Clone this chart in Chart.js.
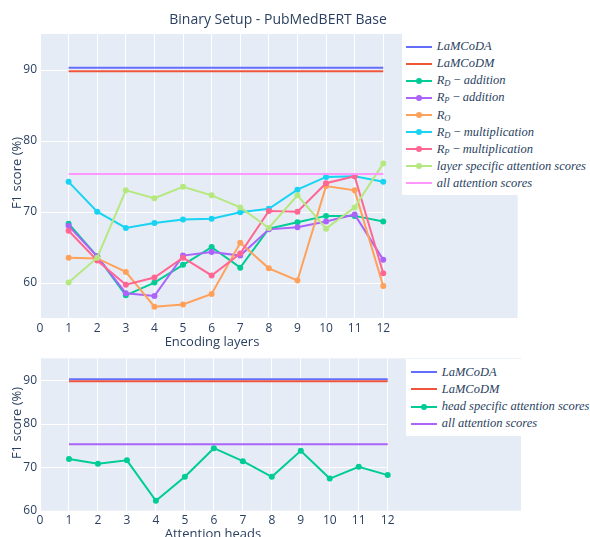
<!DOCTYPE html>
<html>
<head>
<meta charset="utf-8">
<script src="https://cdn.jsdelivr.net/npm/chart.js@4.4.1/dist/chart.umd.min.js"></script>
<style>
  body { margin: 0; background: #fff; width: 590px; height: 537px; overflow: hidden; position: relative;
         font-family: "Open Sans", sans-serif; color: #2a3f5f; }
  canvas { position: absolute; left: 0; }
  #topCanvas { top: 0; }
  #bottomCanvas { top: 340px; }
  .txt { position: absolute; white-space: nowrap; font-size: 13px; transform: translate(-50%, -50%); }
  .ytitle { transform: translate(-50%, -50%) rotate(-90deg); }
  .legend { position: absolute; right: 0; background: #fff; font-family: "Liberation Serif", serif;
            font-style: italic; font-size: 12.5px; color: #2a3f5f; }
  .legend .item { position: absolute; left: 0; height: 17px; line-height: 17px; white-space: nowrap; }
  .legend .line { position: absolute; height: 2px; top: 7.5px; }
  .legend .dot { position: absolute; width: 6px; height: 6px; border-radius: 3px; top: -2px; left: 10px; }
  .legend .lbl { position: absolute; top: 0; }
  .legend sub { font-size: 8.5px; vertical-align: -2px; line-height: 0; }
  .legend .op { font-style: normal; }
</style>
</head>
<body>
<canvas id="topCanvas" width="590" height="350"></canvas>
<canvas id="bottomCanvas" width="590" height="197"></canvas>

<div class="txt" style="left:278px; top:18px; font-size:14px;">Binary Setup - PubMedBERT Base</div>
<div class="txt ytitle" style="left:16px; top:173px;">F1 score (%)</div>
<div class="txt" style="left:212px; top:341px;">Encoding layers</div>
<div class="txt ytitle" style="left:16px; top:423px;">F1 score (%)</div>
<div class="txt" style="left:213px; top:533px;">Attention heads</div>

<div class="legend" id="topLegend" style="left:402px; top:34px; height:161px;"></div>
<div class="legend" id="bottomLegend" style="left:406px; top:359px; height:77px;"></div>

<script>
// x axis (encoding layers / attention heads) and tick labels
const layers = [1, 2, 3, 4, 5, 6, 7, 8, 9, 10, 11, 12];
const heads = [1, 2, 3, 4, 5, 6, 7, 8, 9, 10, 11, 12];
const xTicks = [0, 1, 2, 3, 4, 5, 6, 7, 8, 9, 10, 11, 12];
const yTicksTop = [60, 70, 80, 90];
const yTicksBottom = [60, 70, 80, 90];

// baselines (constant over the x axis)
const lamcoda = 90.3;
const lamcodm = 89.8;
const allAttention = 75.3;

// top plot - encoding layers
const rdAddition = [68.3, 63.7, 58.2, 60.0, 62.5, 65.0, 62.1, 67.6, 68.5, 69.4, 69.4, 68.6];
const rpAddition = [68.0, 63.7, 58.5, 58.1, 63.8, 64.3, 63.8, 67.5, 67.8, 68.6, 69.6, 63.2];
const rO = [63.5, 63.4, 61.5, 56.6, 56.9, 58.4, 65.6, 62.0, 60.3, 73.6, 73.0, 59.5];
const rdMultiplication = [74.2, 70.0, 67.7, 68.4, 68.9, 69.0, 69.9, 70.4, 73.1, 74.9, 75.0, 74.2];
const rpMultiplication = [67.3, 63.1, 59.7, 60.7, 63.5, 61.0, 64.1, 70.1, 70.0, 74.0, 75.0, 61.3];
const layerSpecific = [60.0, 63.5, 73.0, 71.9, 73.5, 72.3, 70.6, 67.7, 72.3, 67.6, 70.6, 76.8];

// bottom plot - attention heads
const headSpecific = [71.9, 70.8, 71.6, 62.3, 67.8, 74.4, 71.4, 67.8, 73.8, 67.4, 70.1, 68.2];

const pts = (xs, ys) => xs.map((x, i) => ({ x: x, y: ys[i] }));
const flat = (xs, v) => xs.map(x => ({ x: x, y: v }));

function series(label, data, color, markers) {
    return {
        label: label,
        data: data,
        borderColor: color,
        backgroundColor: color,
        borderWidth: 2,
        pointRadius: markers ? 3 : 0,
        pointHoverRadius: markers ? 3 : 0,
        pointBorderWidth: 0,
        tension: 0,
        markers: markers
    };
}

// plot background + horizontal grid that stops at x = 12 (like the original)
const plotBg = {
    id: 'plotBg',
    beforeDraw(chart) {
        const { ctx, chartArea: a } = chart;
        ctx.save();
        ctx.fillStyle = '#E5ECF6';
        ctx.fillRect(a.left, a.top, a.right - a.left, a.bottom - a.top);
        ctx.restore();
    },
    beforeDatasetsDraw(chart) {
        const { ctx, scales } = chart;
        const x0 = scales.x.getPixelForValue(0);
        const x1 = scales.x.getPixelForValue(12);
        ctx.save();
        ctx.strokeStyle = '#ffffff';
        ctx.lineWidth = 1;
        scales.y.ticks.forEach(t => {
            const y = Math.round(scales.y.getPixelForValue(t.value)) + 0.5;
            ctx.beginPath();
            ctx.moveTo(x0, y);
            ctx.lineTo(x1, y);
            ctx.stroke();
        });
        ctx.restore();
    }
};

function makeChart(canvas, datasets, opt) {
    datasets.forEach((d, i) => { d.order = datasets.length - i; });
    return new Chart(canvas, {
        type: 'line',
        data: { datasets: datasets },
        options: {
            responsive: false,
            animation: false,
            events: [],
            layout: { padding: { left: 0, top: opt.top, right: canvas.width - opt.right, bottom: 0 } },
            plugins: { legend: { display: false }, tooltip: { enabled: false } },
            scales: {
                x: {
                    type: 'linear',
                    min: 0,
                    max: opt.xMax,
                    afterBuildTicks: s => { s.ticks = xTicks.map(v => ({ value: v })); },
                    afterFit: s => { s.height = canvas.height - opt.bottom; },
                    grid: { color: '#ffffff', lineWidth: 1, drawTicks: false },
                    border: { display: false },
                    ticks: { padding: 3, color: '#2a3f5f', font: { family: 'Open Sans', size: 12 }, maxRotation: 0 }
                },
                y: {
                    min: opt.yMin,
                    max: opt.yMax,
                    afterBuildTicks: s => { s.ticks = opt.yTicks.map(v => ({ value: v })); },
                    afterFit: s => { s.width = opt.left; },
                    grid: { display: false, drawTicks: false },
                    border: { display: false },
                    ticks: { padding: 3, color: '#2a3f5f', font: { family: 'Open Sans', size: 12 } }
                }
            }
        },
        plugins: [plotBg]
    });
}

const topChart = makeChart(document.getElementById('topCanvas'), [
    series('LaMCoDA', flat(layers, lamcoda), '#636EFA', false),
    series('LaMCoDM', flat(layers, lamcodm), '#EF553B', false),
    series('R_D − addition', pts(layers, rdAddition), '#00CC96', true),
    series('R_P − addition', pts(layers, rpAddition), '#AB63FA', true),
    series('R_O', pts(layers, rO), '#FFA15A', true),
    series('R_D − multiplication', pts(layers, rdMultiplication), '#19D3F3', true),
    series('R_P − multiplication', pts(layers, rpMultiplication), '#FF6692', true),
    series('layer specific attention scores', pts(layers, layerSpecific), '#B6E880', true),
    series('all attention scores', flat(layers, allAttention), '#FF97FF', false)
], { left: 40, right: 517.7, top: 34, bottom: 318, xMax: 16.7, yMin: 55, yMax: 95.05, yTicks: yTicksTop });

const bottomChart = makeChart(document.getElementById('bottomCanvas'), [
    series('LaMCoDA', flat(heads, lamcoda), '#636EFA', false),
    series('LaMCoDM', flat(heads, lamcodm), '#EF553B', false),
    series('head specific attention scores', pts(heads, headSpecific), '#00CC96', true),
    series('all attention scores', flat(heads, allAttention), '#AB63FA', false)
], { left: 40, right: 521, top: 18.3, bottom: 170.7, xMax: 16.6, yMin: 60, yMax: 95.1, yTicks: yTicksBottom });

// legend in html so the math style labels (subscripts) can be kept
function labelHtml(label) {
    return label
        .replace(/R_([A-Z])/g, 'R<sub>$1</sub>')
        .replace(' − ', ' <span class="op">−</span> ');
}

function buildLegend(el, chart, pos) {
    chart.data.datasets.forEach((ds, i) => {
        const item = document.createElement('div');
        item.className = 'item';
        item.style.top = (pos.y0 + i * pos.step - 8.5) + 'px';
        const line = document.createElement('div');
        line.className = 'line';
        line.style.left = pos.lineX + 'px';
        line.style.width = '26px';
        line.style.background = ds.borderColor;
        if (ds.markers) {
            const dot = document.createElement('div');
            dot.className = 'dot';
            dot.style.background = ds.borderColor;
            line.appendChild(dot);
        }
        const lbl = document.createElement('span');
        lbl.className = 'lbl';
        lbl.style.left = pos.textX + 'px';
        lbl.innerHTML = labelHtml(ds.label);
        item.appendChild(line);
        item.appendChild(lbl);
        el.appendChild(item);
    });
}

buildLegend(document.getElementById('topLegend'), topChart, { y0: 12.7, step: 17.08, lineX: 4, textX: 34.7 });
buildLegend(document.getElementById('bottomLegend'), bottomChart, { y0: 13.3, step: 17.1, lineX: 4.7, textX: 35.7 });
</script>
</body>
</html>
